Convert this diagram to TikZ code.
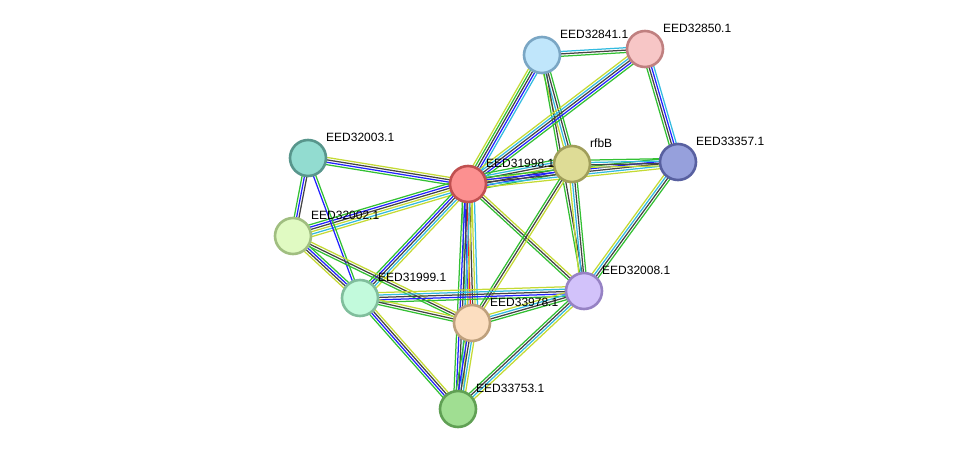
\documentclass[tikz,border=0pt]{standalone}
\usepackage{fontspec}
\setmainfont{Liberation Sans}
\usetikzlibrary{calc}
\pgfdeclarelayer{bg}
\pgfsetlayers{bg,main}
\definecolor{cgreen}{HTML}{33C033}
\definecolor{cblue}{HTML}{2222FF}
\definecolor{cblack}{HTML}{444444}
\definecolor{ccyan}{HTML}{33BBE0}
\definecolor{cyellow}{HTML}{C4DA34}
\definecolor{cred}{HTML}{FF2222}
\tikzset{
  prot/.style={circle, minimum size=36pt, inner sep=0pt, line width=2.6pt},
  lab/.style={anchor=west, inner sep=0pt, font=\fontsize{12}{14}\selectfont},
}
\newcommand\lnk[3]{%
  \foreach \cc [count=\n] in {#3}{\xdef\nn{\n}}%
  \foreach \cc [count=\i] in {#3}{%
    \pgfmathsetmacro\off{(\i-(\nn+1)/2)*2.4}%
    \draw[color=\cc, line width=1.25pt] ($(#1)!\off pt!90:(#2)$) -- ($(#2)!\off pt!-90:(#1)$);
  }}
\begin{document}
\begin{tikzpicture}[x=1pt,y=-1pt]
\useasboundingbox (0,0) rectangle (975,455);
\node[prot, fill={rgb,255:red,192;green,230;blue,251}, draw={rgb,255:red,122;green,166;blue,196}] (a32841) at (542,55) {};
\node[prot, fill={rgb,255:red,247;green,198;blue,198}, draw={rgb,255:red,192;green,128;blue,128}] (a32850) at (645,49) {};
\node[prot, fill={rgb,255:red,146;green,220;blue,208}, draw={rgb,255:red,88;green,150;blue,140}] (a32003) at (308,158) {};
\node[prot, fill={rgb,255:red,252;green,144;blue,144}, draw={rgb,255:red,192;green,80;blue,80}] (a31998) at (468,184) {};
\node[prot, fill={rgb,255:red,222;green,220;blue,150}, draw={rgb,255:red,160;green,158;blue,90}] (arfbB) at (572,164) {};
\node[prot, fill={rgb,255:red,150;green,160;blue,220}, draw={rgb,255:red,88;green,96;blue,160}] (a33357) at (678,162) {};
\node[prot, fill={rgb,255:red,224;green,250;blue,194}, draw={rgb,255:red,160;green,190;blue,128}] (a32002) at (293,236) {};
\node[prot, fill={rgb,255:red,194;green,250;blue,220}, draw={rgb,255:red,128;green,190;blue,156}] (a31999) at (360,298) {};
\node[prot, fill={rgb,255:red,210;green,194;blue,250}, draw={rgb,255:red,150;green,130;blue,196}] (a32008) at (584,291) {};
\node[prot, fill={rgb,255:red,252;green,222;blue,192}, draw={rgb,255:red,190;green,160;blue,124}] (a33978) at (472,323) {};
\node[prot, fill={rgb,255:red,160;green,222;blue,146}, draw={rgb,255:red,96;green,160;blue,84}] (a33753) at (458,409) {};

\node[lab] (l32841) at (560,34) {EED32841.1};
\node[lab] (l32850) at (663,28) {EED32850.1};
\node[lab] (l32003) at (326,137) {EED32003.1};
\node[lab] (l31998) at (486,163) {EED31998.1};
\node[lab] (lrfbB) at (590,143) {rfbB};
\node[lab] (l33357) at (696,141) {EED33357.1};
\node[lab] (l32002) at (311,215) {EED32002.1};
\node[lab] (l31999) at (378,277) {EED31999.1};
\node[lab] (l32008) at (602,270) {EED32008.1};
\node[lab] (l33978) at (490,302) {EED33978.1};
\node[lab] (l33753) at (476,388) {EED33753.1};

\begin{pgfonlayer}{bg}
\lnk{a32841}{a32850}{cgreen,cblack,ccyan}
\lnk{a32841}{a31998}{cyellow,cgreen,cblack,cblue,ccyan}
\lnk{a32841}{arfbB}{cyellow,ccyan,cblack,cgreen}
\lnk{a32841}{a32008}{cgreen,cblack}
\lnk{a32850}{a31998}{cyellow,ccyan,cblack,cblue,cgreen}
\lnk{a32850}{a33357}{cgreen,cblack,cblue,ccyan}
\lnk{a31998}{arfbB}{cgreen,cblue,cblack,cyellow,cblack,ccyan,cgreen}
\lnk{a31998}{a33357}{cyellow,ccyan,cblack,cblue,cgreen}
\lnk{arfbB}{a33357}{cyellow,cblack,ccyan,cgreen}
\lnk{a31998}{a32003}{cyellow,cblack,cblue,cgreen}
\lnk{a31998}{a32002}{cgreen,cblue,cblack,cyellow,ccyan,cyellow}
\lnk{a31998}{a31999}{cgreen,cblue,cblack,ccyan,cyellow}
\lnk{a31998}{a33978}{cgreen,cblue,cred,cblack,cyellow,ccyan}
\lnk{a31998}{a33753}{cgreen,cblue,cblack,ccyan,cyellow}
\lnk{a31998}{a32008}{cgreen,cblack,cyellow}
\lnk{arfbB}{a32008}{cyellow,ccyan,cblack,cgreen}
\lnk{arfbB}{a33978}{cgreen,cblack,cyellow}
\lnk{a33357}{a32008}{cyellow,ccyan,cblack,cgreen}
\lnk{a32003}{a32002}{cgreen,cblue,cblack}
\lnk{a32003}{a31999}{cblue,cgreen}
\lnk{a32002}{a31999}{cyellow,cblack,cblue,cgreen}
\lnk{a32002}{a33978}{cgreen,cblack,cyellow}
\lnk{a31999}{a32008}{cgreen,cblue,cblack,ccyan,cyellow}
\lnk{a31999}{a33978}{cgreen,cblack,cyellow}
\lnk{a31999}{a33753}{cgreen,cblue,cblack,cyellow}
\lnk{a33978}{a32008}{cgreen,cblack,ccyan,cyellow}
\lnk{a33978}{a33753}{cgreen,cblue,cblack,ccyan,cyellow}
\lnk{a32008}{a33753}{cgreen,cblack,ccyan,cyellow}
\end{pgfonlayer}
\end{tikzpicture}
\end{document}
